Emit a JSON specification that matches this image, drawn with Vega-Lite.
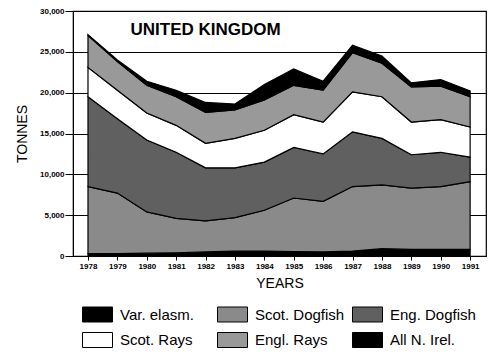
{
  "$schema": "https://vega.github.io/schema/vega-lite/v6.json",
  "width": 413,
  "height": 245,
  "autosize": {"type": "none"},
  "padding": {"left": 73, "top": 11, "right": 14, "bottom": 107},
  "background": "white",
  "config": {
    "font": "Liberation Sans",
    "view": {"stroke": "black", "strokeWidth": 1.2}
  },
  "data": {
    "values": [
      {"year": 1978, "series": "All N. Irel.", "tonnes": 300}, {"year": 1978, "series": "Scot. Dogfish", "tonnes": 8200}, {"year": 1978, "series": "Eng. Dogfish", "tonnes": 11000}, {"year": 1978, "series": "Scot. Rays", "tonnes": 3600}, {"year": 1978, "series": "Engl. Rays", "tonnes": 3900}, {"year": 1978, "series": "Var. elasm.", "tonnes": 100},
      {"year": 1979, "series": "All N. Irel.", "tonnes": 300}, {"year": 1979, "series": "Scot. Dogfish", "tonnes": 7400}, {"year": 1979, "series": "Eng. Dogfish", "tonnes": 9100}, {"year": 1979, "series": "Scot. Rays", "tonnes": 3500}, {"year": 1979, "series": "Engl. Rays", "tonnes": 3500}, {"year": 1979, "series": "Var. elasm.", "tonnes": 200},
      {"year": 1980, "series": "All N. Irel.", "tonnes": 350}, {"year": 1980, "series": "Scot. Dogfish", "tonnes": 5050}, {"year": 1980, "series": "Eng. Dogfish", "tonnes": 8800}, {"year": 1980, "series": "Scot. Rays", "tonnes": 3300}, {"year": 1980, "series": "Engl. Rays", "tonnes": 3400}, {"year": 1980, "series": "Var. elasm.", "tonnes": 500},
      {"year": 1981, "series": "All N. Irel.", "tonnes": 400}, {"year": 1981, "series": "Scot. Dogfish", "tonnes": 4200}, {"year": 1981, "series": "Eng. Dogfish", "tonnes": 8100}, {"year": 1981, "series": "Scot. Rays", "tonnes": 3300}, {"year": 1981, "series": "Engl. Rays", "tonnes": 3500}, {"year": 1981, "series": "Var. elasm.", "tonnes": 800},
      {"year": 1982, "series": "All N. Irel.", "tonnes": 500}, {"year": 1982, "series": "Scot. Dogfish", "tonnes": 3800}, {"year": 1982, "series": "Eng. Dogfish", "tonnes": 6500}, {"year": 1982, "series": "Scot. Rays", "tonnes": 3000}, {"year": 1982, "series": "Engl. Rays", "tonnes": 3800}, {"year": 1982, "series": "Var. elasm.", "tonnes": 1200},
      {"year": 1983, "series": "All N. Irel.", "tonnes": 600}, {"year": 1983, "series": "Scot. Dogfish", "tonnes": 4100}, {"year": 1983, "series": "Eng. Dogfish", "tonnes": 6100}, {"year": 1983, "series": "Scot. Rays", "tonnes": 3600}, {"year": 1983, "series": "Engl. Rays", "tonnes": 3500}, {"year": 1983, "series": "Var. elasm.", "tonnes": 700},
      {"year": 1984, "series": "All N. Irel.", "tonnes": 600}, {"year": 1984, "series": "Scot. Dogfish", "tonnes": 5000}, {"year": 1984, "series": "Eng. Dogfish", "tonnes": 5900}, {"year": 1984, "series": "Scot. Rays", "tonnes": 3900}, {"year": 1984, "series": "Engl. Rays", "tonnes": 3700}, {"year": 1984, "series": "Var. elasm.", "tonnes": 1900},
      {"year": 1985, "series": "All N. Irel.", "tonnes": 550}, {"year": 1985, "series": "Scot. Dogfish", "tonnes": 6550}, {"year": 1985, "series": "Eng. Dogfish", "tonnes": 6200}, {"year": 1985, "series": "Scot. Rays", "tonnes": 4000}, {"year": 1985, "series": "Engl. Rays", "tonnes": 3600}, {"year": 1985, "series": "Var. elasm.", "tonnes": 2000},
      {"year": 1986, "series": "All N. Irel.", "tonnes": 500}, {"year": 1986, "series": "Scot. Dogfish", "tonnes": 6200}, {"year": 1986, "series": "Eng. Dogfish", "tonnes": 5800}, {"year": 1986, "series": "Scot. Rays", "tonnes": 3900}, {"year": 1986, "series": "Engl. Rays", "tonnes": 3900}, {"year": 1986, "series": "Var. elasm.", "tonnes": 1100},
      {"year": 1987, "series": "All N. Irel.", "tonnes": 600}, {"year": 1987, "series": "Scot. Dogfish", "tonnes": 7900}, {"year": 1987, "series": "Eng. Dogfish", "tonnes": 6700}, {"year": 1987, "series": "Scot. Rays", "tonnes": 4900}, {"year": 1987, "series": "Engl. Rays", "tonnes": 4800}, {"year": 1987, "series": "Var. elasm.", "tonnes": 900},
      {"year": 1988, "series": "All N. Irel.", "tonnes": 900}, {"year": 1988, "series": "Scot. Dogfish", "tonnes": 7800}, {"year": 1988, "series": "Eng. Dogfish", "tonnes": 5700}, {"year": 1988, "series": "Scot. Rays", "tonnes": 5100}, {"year": 1988, "series": "Engl. Rays", "tonnes": 4100}, {"year": 1988, "series": "Var. elasm.", "tonnes": 900},
      {"year": 1989, "series": "All N. Irel.", "tonnes": 800}, {"year": 1989, "series": "Scot. Dogfish", "tonnes": 7500}, {"year": 1989, "series": "Eng. Dogfish", "tonnes": 4100}, {"year": 1989, "series": "Scot. Rays", "tonnes": 4000}, {"year": 1989, "series": "Engl. Rays", "tonnes": 4300}, {"year": 1989, "series": "Var. elasm.", "tonnes": 500},
      {"year": 1990, "series": "All N. Irel.", "tonnes": 800}, {"year": 1990, "series": "Scot. Dogfish", "tonnes": 7700}, {"year": 1990, "series": "Eng. Dogfish", "tonnes": 4200}, {"year": 1990, "series": "Scot. Rays", "tonnes": 4000}, {"year": 1990, "series": "Engl. Rays", "tonnes": 4100}, {"year": 1990, "series": "Var. elasm.", "tonnes": 800},
      {"year": 1991, "series": "All N. Irel.", "tonnes": 800}, {"year": 1991, "series": "Scot. Dogfish", "tonnes": 8300}, {"year": 1991, "series": "Eng. Dogfish", "tonnes": 3000}, {"year": 1991, "series": "Scot. Rays", "tonnes": 3700}, {"year": 1991, "series": "Engl. Rays", "tonnes": 3700}, {"year": 1991, "series": "Var. elasm.", "tonnes": 700}
    ]
  },
  "layer": [
    {
      "transform": [
        {"calculate": "indexof(['All N. Irel.', 'Scot. Dogfish', 'Eng. Dogfish', 'Scot. Rays', 'Engl. Rays', 'Var. elasm.'], datum.series)", "as": "stackOrder"}
      ],
      "mark": {"type": "area", "stroke": "black", "strokeWidth": 1.2, "opacity": 1, "interpolate": "linear"},
      "encoding": {
        "x": {
          "field": "year", "type": "quantitative",
          "scale": {"domain": [1977.49, 1991.54], "nice": false, "zero": false},
          "axis": {
            "values": [1978, 1979, 1980, 1981, 1982, 1983, 1984, 1985, 1986, 1987, 1988, 1989, 1990, 1991],
            "format": "d", "labelFontSize": 8, "labelFontWeight": "bold", "labelColor": "black",
            "tickColor": "black", "tickSize": 4, "labelPadding": 2, "domainColor": "black", "grid": false,
            "labelFlush": false, "labelOverlap": false,
            "title": "YEARS", "titleFontSize": 14, "titleFontWeight": "normal", "titleColor": "black", "titlePadding": 6
          }
        },
        "y": {
          "field": "tonnes", "type": "quantitative", "stack": "zero",
          "scale": {"domain": [0, 30000], "nice": false},
          "axis": {
            "values": [0, 5000, 10000, 15000, 20000, 25000, 30000],
            "format": ",.0f", "labelFontSize": 8, "labelFontWeight": "bold", "labelColor": "black",
            "tickColor": "black", "tickSize": 8, "labelPadding": 1, "domainColor": "black",
            "grid": true, "gridColor": "black", "gridWidth": 1, "gridOpacity": 1,
            "title": "TONNES", "titleFontSize": 14, "titleFontWeight": "normal", "titleColor": "black", "titlePadding": 10
          }
        },
        "color": {
          "field": "series", "type": "nominal",
          "scale": {
            "domain": ["Var. elasm.", "Scot. Dogfish", "Eng. Dogfish", "Scot. Rays", "Engl. Rays", "All N. Irel."],
            "range": ["#000000", "#8a8a8a", "#606060", "#ffffff", "#999999", "#000000"]
          },
          "legend": {
            "orient": "none", "legendX": 9, "legendY": 288, "title": null,
            "columns": 3, "direction": "horizontal", "gridAlign": "all",
            "columnPadding": 5, "rowPadding": 0.5, "padding": 0,
            "symbolType": "M-1,-0.5H1V0.5H-1Z", "symbolSize": 900,
            "symbolStrokeColor": "black", "symbolStrokeWidth": 1, "symbolOpacity": 1,
            "labelFontSize": 15, "labelFont": "Liberation Sans", "labelColor": "black", "labelOffset": 7, "labelLimit": 200
          }
        },
        "order": {"field": "stackOrder", "type": "quantitative", "sort": "ascending"}
      }
    },
    {
      "data": {"values": [{}]},
      "mark": {"type": "text", "fontSize": 17, "fontWeight": "bold", "font": "Liberation Sans", "baseline": "middle", "align": "center", "color": "black"},
      "encoding": {
        "x": {
          "datum": 1982, "type": "quantitative",
          "axis": {
            "values": [1978, 1979, 1980, 1981, 1982, 1983, 1984, 1985, 1986, 1987, 1988, 1989, 1990, 1991],
            "format": "d", "labelFontSize": 8, "labelFontWeight": "bold", "labelColor": "black",
            "tickColor": "black", "tickSize": 4, "labelPadding": 2, "domainColor": "black", "grid": false,
            "labelFlush": false, "labelOverlap": false,
            "title": "YEARS", "titleFontSize": 14, "titleFontWeight": "normal", "titleColor": "black", "titlePadding": 6
          }
        },
        "y": {
          "datum": 27700, "type": "quantitative",
          "axis": {
            "values": [0, 5000, 10000, 15000, 20000, 25000, 30000],
            "format": ",.0f", "labelFontSize": 8, "labelFontWeight": "bold", "labelColor": "black",
            "tickColor": "black", "tickSize": 8, "labelPadding": 1, "domainColor": "black",
            "grid": true, "gridColor": "black", "gridWidth": 1, "gridOpacity": 1,
            "title": "TONNES", "titleFontSize": 14, "titleFontWeight": "normal", "titleColor": "black", "titlePadding": 10
          }
        },
        "text": {"value": "UNITED KINGDOM"}
      }
    }
  ]
}
